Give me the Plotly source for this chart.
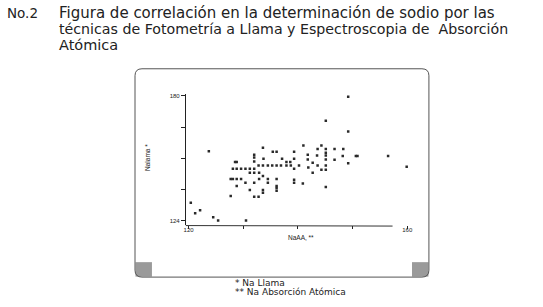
import plotly.graph_objects as go

# ---- data ----
na_aa = [149.2, 145.1, 149.2, 141.0, 144.3, 133.6, 143.6, 145.1, 146.7, 148.3,
         123.7, 135.4, 136.1, 139.3, 132.0, 141.8, 145.1, 145.1, 143.5, 148.2,
         150.6, 150.9, 156.5, 132.0, 139.3, 137.1, 141.8, 145.1, 146.7, 128.8,
         128.5, 132.0, 133.7, 137.9, 138.6, 142.7, 149.2,
         132.8, 133.6, 134.5, 135.3, 136.1, 136.9, 137.9, 138.7, 140.2, 143.6, 145.1,
         159.9,
         128.1, 128.8, 129.6, 130.4, 131.2, 132.0, 139.3, 141.9, 144.3, 145.1, 142.7,
         131.2, 132.0, 132.9, 133.6,
         127.7, 128.1, 128.8, 129.6, 132.9, 134.5, 136.1, 139.3,
         130.4, 132.0, 134.5, 139.3, 140.9,
         128.8, 136.1, 136.1, 145.1,
         131.2, 133.6, 136.1, 133.6,
         132.0, 132.8, 127.7,
         120.4, 121.2, 122.1, 124.5, 125.4, 130.5]
na_llama = [179.7, 168.9, 164.0, 157.7, 157.7, 156.7, 156.2, 156.2, 156.2, 156.2,
            155.2, 155.0, 155.0, 155.0, 153.6, 153.6, 154.5, 153.3, 153.3, 153.0,
            153.0, 153.0, 153.0, 152.4, 151.8, 151.8, 151.5, 151.5, 151.3, 150.3,
            150.3, 150.6, 151.8, 150.3, 150.3, 150.0, 149.8,
            148.8, 148.8, 148.8, 148.8, 148.8, 148.8, 148.8, 148.8, 148.8, 148.8, 148.8,
            148.2,
            147.3, 147.3, 147.3, 147.3, 147.3, 147.3, 147.3, 147.9, 146.8, 146.8, 145.5,
            145.5, 145.5, 145.5, 144.0,
            142.7, 142.7, 142.7, 142.7, 142.7, 142.7, 142.7, 142.4,
            141.0, 141.0, 141.0, 141.0, 140.7,
            139.5, 139.5, 138.6, 139.1,
            137.7, 137.7, 137.4, 136.5,
            134.7, 134.7, 135.0,
            132.0, 127.3, 128.6, 125.5, 124.0, 124.0]

x_tickvals = [120, 130, 140, 150, 160]
x_ticktext = ["120", "", "", "", "160"]
y_tickvals = [124, 138, 152, 166, 180]
y_ticktext = ["124", "", "", "", "180"]

title_num = "No.2"
title_lines = ["Figura de correlación en la determinación de sodio por las",
               "técnicas de Fotometría a Llama y Espectroscopia de\u00a0 Absorción",
               "Atómica"]
title_sizes = [15, 14.2, 14.5]
x_title = "NaAA, **"
y_title = "Nalama *"
notes = ["* Na Llama", "** Na Absorción Atómica"]

W, H = 543, 307
def fx(px):
    return px / W
def fy(py):
    return 1 - py / H

fig = go.Figure()
fig.add_trace(go.Scatter(
    x=na_aa, y=na_llama, mode="markers",
    marker=dict(symbol="square", size=2.5, color="#2a2a2a", line=dict(width=0)),
    showlegend=False, hoverinfo="skip"))

tickfont = dict(family="Liberation Sans, Arial", size=6, color="#222")

fig.update_layout(
    width=W, height=H, autosize=False,
    margin=dict(l=0, r=0, t=0, b=0),
    paper_bgcolor="white", plot_bgcolor="white",
    xaxis=dict(domain=[fx(184.56), fx(417.7)], range=[119.5, 162],
               showline=False, showgrid=False, zeroline=False,
               ticks="outside", ticklen=3, tickwidth=1, tickcolor="#222",
               tickvals=x_tickvals, ticktext=x_ticktext, tickfont=tickfont,
               ticklabelstandoff=-4),
    yaxis=dict(domain=[fy(225.0), fy(93.3)], range=[121.9, 180.9],
               showline=True, linecolor="#222", linewidth=1,
               showgrid=False, zeroline=False,
               ticks="outside", ticklen=4, tickwidth=1, tickcolor="#222",
               tickvals=y_tickvals, ticktext=y_ticktext, tickfont=tickfont),
)

# rounded frame
x0, x1, y0, y1 = fx(133.5), fx(428.5), fy(68), fy(277)
rx, ry = 7 / W, 7 / H
path = (f"M {x0+rx},{y0} L {x1-rx},{y0} Q {x1},{y0} {x1},{y0-ry} "
        f"L {x1},{y1+ry} Q {x1},{y1} {x1-rx},{y1} "
        f"L {x0+rx},{y1} Q {x0},{y1} {x0},{y1+ry} "
        f"L {x0},{y0-ry} Q {x0},{y0} {x0+rx},{y0} Z")
shapes = [
    dict(type="rect", xref="paper", yref="paper", x0=fx(134), x1=fx(150.5),
         y0=fy(276.5), y1=fy(262), fillcolor="#9a9a9a", line=dict(width=0)),
    dict(type="rect", xref="paper", yref="paper", x0=fx(411.5), x1=fx(428),
         y0=fy(276.5), y1=fy(262), fillcolor="#9a9a9a", line=dict(width=0)),
    dict(type="path", xref="paper", yref="paper", path=path,
         line=dict(color="#555", width=1)),
    dict(type="line", xref="paper", yref="paper", x0=fx(184.5), x1=fx(392),
         y0=fy(225.3), y1=fy(225.8), line=dict(color="#333", width=1)),
]
fig.update_layout(shapes=shapes)

ann = [dict(text=title_num, x=fx(3), y=fy(12), xanchor="left", yanchor="middle",
            font=dict(family="DejaVu Sans, Verdana", size=13.5, color="#222"))]
for i, t in enumerate(title_lines):
    ann.append(dict(text=t, x=fx(55), y=fy(12 + 16 * i), xanchor="left",
                    yanchor="middle",
                    font=dict(family="DejaVu Sans, Verdana", size=title_sizes[i], color="#222")))
ann.append(dict(text=x_title, x=fx(300), y=fy(237), xanchor="center", yanchor="middle",
                font=dict(family="Liberation Sans, Arial", size=6.5, color="#222")))
ann.append(dict(text=y_title, x=fx(146), y=fy(157), xanchor="center", yanchor="middle",
                textangle=-90,
                font=dict(family="Liberation Sans, Arial", size=6.5, color="#222")))
nfont = dict(family="DejaVu Sans, Verdana", size=9, color="#222")
ann.append(dict(text=notes[0], x=fx(232), y=fy(282.5), xanchor="left", yanchor="middle", font=nfont))
ann.append(dict(text=notes[1], x=fx(232), y=fy(291.5), xanchor="left", yanchor="middle", font=nfont))
for a in ann:
    a.update(xref="paper", yref="paper", showarrow=False)
fig.update_layout(annotations=ann)

fig.write_html("out.html", config={"displayModeBar": False},
               post_script="document.body.style.margin='0';document.body.style.overflow='hidden';")
